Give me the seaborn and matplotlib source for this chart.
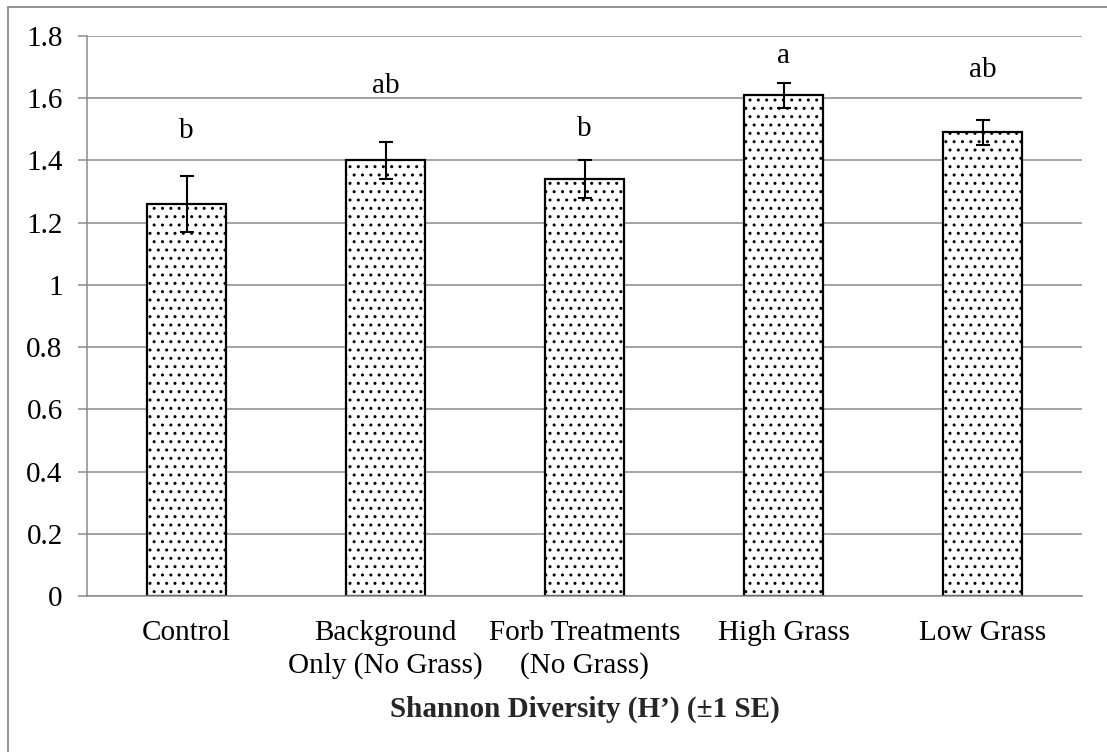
import matplotlib
matplotlib.use("Agg")
import matplotlib.pyplot as plt
import seaborn as sns
import pandas as pd
from matplotlib.lines import Line2D
from matplotlib.ticker import FixedLocator, FuncFormatter

categories = ["Control", "Background\nOnly (No Grass)", "Forb Treatments\n(No Grass)",
              "High Grass", "Low Grass"]
means = [1.26, 1.40, 1.34, 1.61, 1.49]
errors = [0.09, 0.06, 0.06, 0.04, 0.04]
letters = ["b", "ab", "b", "a", "ab"]
letter_y = [1.495, 1.64, 1.50, 1.735, 1.69]
yticks = [0, 0.2, 0.4, 0.6, 0.8, 1.0, 1.2, 1.4, 1.6, 1.8]
xlabel = "Shannon Diversity (H\u2019) (\u00b11 SE)"

sns.set_theme(style="white")
plt.rcParams['font.family'] = ['Liberation Serif', 'DejaVu Serif']
plt.rcParams['hatch.linewidth'] = 1.0
plt.rcParams['hatch.color'] = 'black'

GRAY = '#8a8a8a'
FS = 21

fig = plt.figure(figsize=(11.07, 7.52), dpi=100)
ax = fig.add_axes([87/1107, 1-596/752, (1082-87)/1107, (596-36)/752])

df = pd.DataFrame({"cat": categories, "val": means})
sns.barplot(data=df, x="cat", y="val", ax=ax, width=0.4, color="white",
            edgecolor="black", linewidth=1.6, errorbar=None, saturation=1, zorder=3)
for p in ax.patches:
    p.set_hatch('..')
    p.set_facecolor('white')
    p.set_zorder(3)

ax.errorbar(range(len(means)), means, yerr=errors, fmt='none', ecolor='black',
            elinewidth=1.5, capsize=5, capthick=1.5, zorder=4)

for i, (t, y) in enumerate(zip(letters, letter_y)):
    ax.text(i, y, t, ha='center', va='center', fontsize=FS, color='black')

ax.set_xlim(-0.5, len(categories) - 0.5)
ax.set_ylim(0, 1.8)
ax.yaxis.set_major_locator(FixedLocator(yticks))
ax.yaxis.set_major_formatter(FuncFormatter(lambda v, p: f"{v:g}"))
ax.grid(axis='y', color=GRAY, linewidth=1.1, zorder=0)
ax.set_axisbelow(True)

ax.xaxis.set_minor_locator(FixedLocator([i - 0.5 for i in range(len(categories) + 1)]))
ax.tick_params(axis='x', which='major', length=0, pad=17, labelsize=FS, colors='black')
ax.tick_params(axis='x', which='minor', length=6, width=1.1, color=GRAY, direction='out')
ax.tick_params(axis='y', length=6.5, width=1.1, color=GRAY, pad=11, labelsize=FS,
               labelcolor='black', left=True)
for lab in ax.get_xticklabels():
    lab.set_linespacing(1.32)

ax.set_xlabel(xlabel, fontsize=FS, fontweight='bold', labelpad=12)
ax.set_ylabel("")

for s in ['top', 'right']:
    ax.spines[s].set_visible(False)
for s in ['left', 'bottom']:
    ax.spines[s].set_color(GRAY)
    ax.spines[s].set_linewidth(1.1)
ax.spines['bottom'].set_zorder(5)

# outer chart border (left and top edges visible)
fig.add_artist(Line2D([8/1107, 8/1107], [0, 1-7/752], transform=fig.transFigure,
                      color=GRAY, linewidth=1.3))
fig.add_artist(Line2D([8/1107, 1], [1-7/752, 1-7/752], transform=fig.transFigure,
                      color=GRAY, linewidth=1.3))

fig.savefig("out.png", dpi=100)
